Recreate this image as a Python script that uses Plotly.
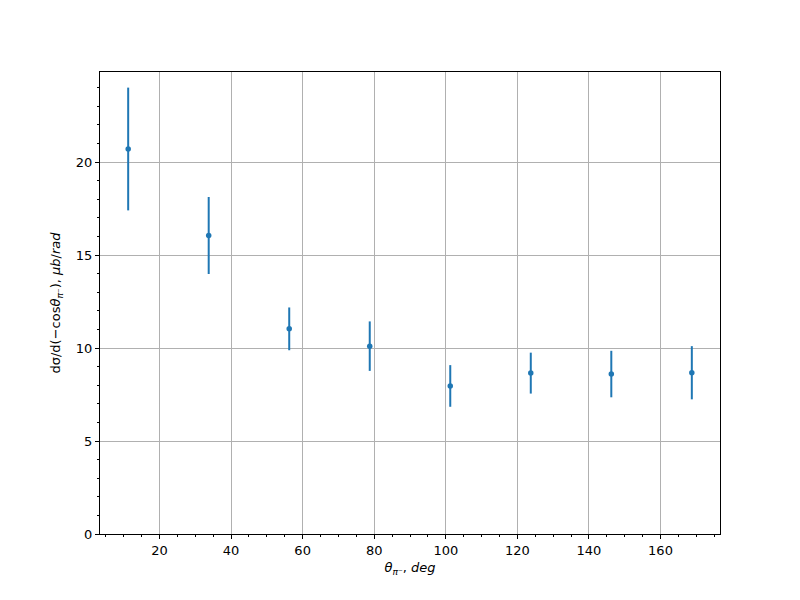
import plotly.graph_objects as go

theta_deg = [11.25, 33.75, 56.25, 78.75, 101.25, 123.75, 146.25, 168.75]
dsigma = [20.7, 16.05, 11.03, 10.1, 7.96, 8.65, 8.6, 8.67]
dsigma_err = [3.3, 2.07, 1.15, 1.33, 1.12, 1.1, 1.25, 1.43]
x_ticks = [20, 40, 60, 80, 100, 120, 140, 160]
y_ticks = [0, 5, 10, 15, 20]

blue = "#1f77b4"
font = dict(family="DejaVu Sans", size=13, color="black")

fig = go.Figure()
fig.add_trace(go.Scatter(
    x=theta_deg, y=dsigma, mode="markers",
    marker=dict(color=blue, size=5.5),
    error_y=dict(type="data", array=dsigma_err, visible=True,
                 color=blue, thickness=2, width=0),
    showlegend=False,
))

axis_common = dict(
    showline=True, linecolor="black", linewidth=1, mirror=True,
    ticks="outside", ticklen=4, tickwidth=1, tickcolor="black",
    showgrid=True, gridcolor="#b0b0b0", gridwidth=1,
    zeroline=False, tickfont=font,
)

fig.update_xaxes(
    range=[3.375, 176.625], tickvals=x_ticks,
    minor=dict(dtick=5, tick0=0, ticks="outside", ticklen=2, tickcolor="black", showgrid=False),
    title=dict(text="<i>θ</i><sub><i>π</i>⁻</sub>, <i>deg</i>", font=font, standoff=6),
    **axis_common,
)
fig.update_yaxes(
    range=[0, 24.84], tickvals=y_ticks,
    minor=dict(dtick=1, tick0=0, ticks="outside", ticklen=2, tickcolor="black", showgrid=False),
    title=dict(text="dσ/d(−cos<i>θ</i><sub><i>π</i>⁻</sub>), <i>μb</i>/<i>rad</i>", font=font, standoff=12),
    **axis_common,
)

fig.update_layout(
    width=800, height=600,
    margin=dict(l=92, r=88, t=64, b=74),
    plot_bgcolor="white", paper_bgcolor="white",
    font=font,
)

fig.write_html("out.html")
